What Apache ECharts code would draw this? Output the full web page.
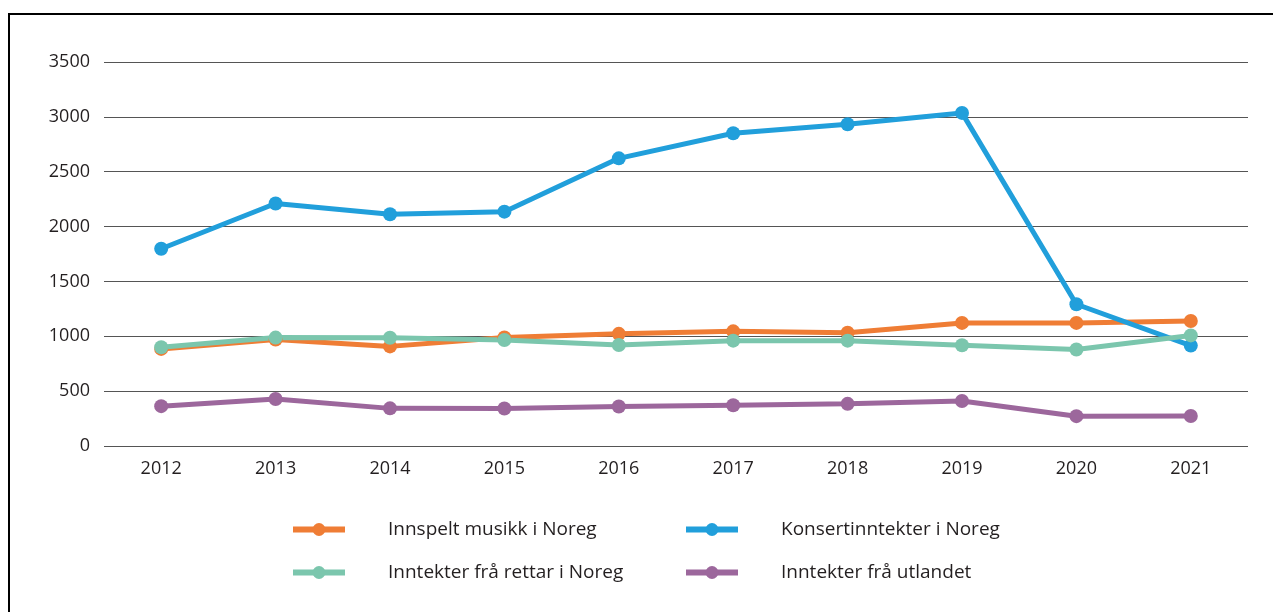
<!DOCTYPE html>
<html>
<head>
<meta charset="utf-8">
<script src="https://cdn.jsdelivr.net/npm/echarts@6/dist/echarts.min.js"></script>
<style>
  html, body { margin: 0; padding: 0; background: #fff; }
  #chart { width: 1273px; height: 612px; }
</style>
</head>
<body>
<div id="chart"></div>
<script>
const years = ['2012', '2013', '2014', '2015', '2016', '2017', '2018', '2019', '2020', '2021']
const innspelt = [885, 970, 908, 990, 1022, 1045, 1033, 1122, 1122, 1139]
const konsert = [1798, 2210, 2112, 2136, 2622, 2850, 2933, 3036, 1292, 915]
const rettar = [900, 988, 986, 966, 920, 960, 960, 918, 880, 1008]
const utlandet = [363, 428, 343, 342, 360, 372, 384, 410, 272, 274]
const seriesNames = [
  'Innspelt musikk i Noreg',
  'Konsertinntekter i Noreg',
  'Inntekter frå rettar i Noreg',
  'Inntekter frå utlandet'
]
const seriesColors = ['#ef7d35', '#219fdb', '#7bc6ad', '#9c679c']
const seriesData = [innspelt, konsert, rettar, utlandet]

const textColor = '#231f20'
const fontFamily = '"Open Sans", "Noto Sans", sans-serif'

const chart = echarts.init(document.getElementById('chart'))

const option = {
  backgroundColor: '#fff',
  animation: false,
  textStyle: { fontFamily: fontFamily },
  grid: {
    left: 104,
    right: 25,
    top: 62,
    bottom: 166
  },
  graphic: [
    {
      type: 'polyline',
      shape: { points: [[9, 612], [9, 14], [1273, 14]] },
      style: { stroke: '#000', lineWidth: 2, fill: null }
    }
  ],
  legend: {
    left: 285,
    top: 503,
    width: 820,
    itemWidth: 52,
    itemHeight: 16,
    itemGap: 0,
    data: seriesNames,
    lineStyle: { width: 6 },
    textStyle: {
      color: textColor,
      fontSize: 19,
      fontFamily: fontFamily,
      width: 295,
      lineHeight: 43,
      padding: [0, 0, 0, 38]
    }
  },
  xAxis: {
    type: 'category',
    data: years,
    boundaryGap: true,
    axisLine: { show: false },
    axisTick: { show: false },
    axisLabel: {
      color: textColor,
      fontSize: 18,
      margin: 14
    }
  },
  yAxis: {
    type: 'value',
    min: 0,
    max: 3500,
    interval: 500,
    axisLine: { show: false },
    axisTick: { show: false },
    splitLine: { lineStyle: { color: '#555', width: 1 } },
    axisLabel: {
      color: textColor,
      fontSize: 18,
      margin: 14,
      formatter: (v) => String(v)
    }
  },
  series: seriesNames.map((name, i) => ({
    name: name,
    type: 'line',
    data: seriesData[i],
    symbol: 'circle',
    symbolSize: 14,
    showSymbol: true,
    itemStyle: { color: seriesColors[i] },
    lineStyle: { width: 5, color: seriesColors[i] }
  }))
}

chart.setOption(option)
</script>
</body>
</html>
